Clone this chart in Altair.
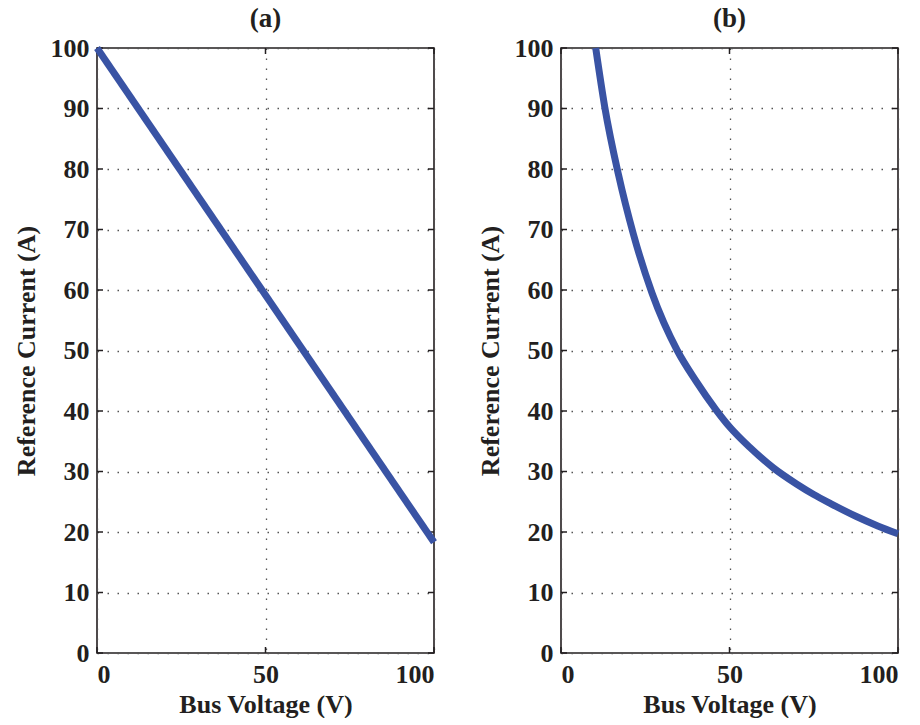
import altair as alt
import pandas as pd

# Panel (a): linear droop of the current reference with bus voltage
volt_a = [0, 100]
curr_a = [100, 18.3]

# Panel (b): constant-power style reference current
volt_b = [10.3, 13, 17, 21.5, 27, 34.5, 40, 46, 50, 56, 63, 70, 75, 80, 87.5, 94, 100]
curr_b = [100, 90.2, 79.2, 69.2, 59.5, 50, 45.0, 40.2, 37.4, 34.0, 30.6, 27.9, 26.2, 24.7, 22.6, 21.0, 19.7]

x_ticks = [0, 50, 100]
y_ticks = [0, 10, 20, 30, 40, 50, 60, 70, 80, 90, 100]

W, H = 337, 605
FONT = "Times New Roman, Liberation Serif, serif"
INK = "#231f20"
LINE = "#3953a4"
TICK = 6

x_scale = alt.Scale(domain=[0, 100], nice=False, zero=False)
y_scale = alt.Scale(domain=[0, 100], nice=False, zero=False)

x_axis = alt.Axis(values=x_ticks, title="Bus Voltage (V)", grid=True)
y_axis = alt.Axis(values=y_ticks, title="Reference Current (A)", grid=True)

yt = pd.DataFrame({"I": y_ticks})
xt = pd.DataFrame({"V": x_ticks})


def panel(volts, currs, label):
    df = pd.DataFrame({"V": volts, "I": currs})
    curve = alt.Chart(df).mark_line(
        color=LINE, strokeWidth=7, interpolate="monotone", strokeCap="butt"
    ).encode(
        x=alt.X("V:Q", scale=x_scale, axis=x_axis),
        y=alt.Y("I:Q", scale=y_scale, axis=y_axis),
    )
    # inward tick marks on all four sides of the frame
    tl = alt.Chart(yt).mark_rule(color=INK, strokeWidth=1.5).encode(
        y=alt.Y("I:Q", scale=y_scale), x=alt.value(0), x2=alt.value(TICK))
    tr = alt.Chart(yt).mark_rule(color=INK, strokeWidth=1.5).encode(
        y=alt.Y("I:Q", scale=y_scale), x=alt.value(W - TICK), x2=alt.value(W))
    tb = alt.Chart(xt).mark_rule(color=INK, strokeWidth=1.5).encode(
        x=alt.X("V:Q", scale=x_scale), y=alt.value(H - TICK), y2=alt.value(H))
    tt = alt.Chart(xt).mark_rule(color=INK, strokeWidth=1.5).encode(
        x=alt.X("V:Q", scale=x_scale), y=alt.value(0), y2=alt.value(TICK))
    return alt.layer(tl, tr, tb, tt, curve).properties(
        width=W, height=H,
        title=alt.TitleParams(label, fontSize=27, font=FONT, fontWeight="bold",
                              color=INK, offset=1),
    )


chart = alt.hconcat(
    panel(volt_a, curr_a, "(a)"),
    panel(volt_b, curr_b, "(b)"),
    spacing=27,
).properties(
    padding={"left": 12, "top": 4, "right": 0, "bottom": 0},
    background="white",
).configure_view(
    stroke=INK, strokeWidth=1.6
).configure_axis(
    labelFont=FONT, titleFont=FONT,
    labelFontSize=26, titleFontSize=26,
    labelFontWeight="bold", titleFontWeight="bold",
    labelColor=INK, titleColor=INK,
    domain=False, ticks=False,
    gridColor="#555555", gridDash=[1.5, 8.5], gridWidth=1.3,
).configure_axisY(
    labelPadding=8, titlePadding=11,
).configure_axisX(
    labelPadding=8, titlePadding=4, labelBaseline="top",
)

chart.save("out.html", embed_options={"renderer": "svg", "actions": False})
